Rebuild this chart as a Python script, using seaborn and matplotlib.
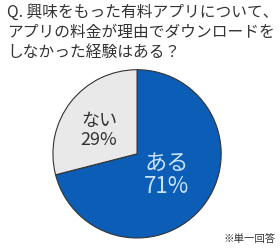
import matplotlib
matplotlib.use('Agg')
import matplotlib.pyplot as plt
import seaborn as sns

# Data
labels = ['ある', 'ない']
shares = [71, 29]
colors = ['#0B5DB5', '#E9E9E9']
text_colors = ['#C9E3FF', '#333333']

sns.set_theme(style='white')
plt.rcParams['font.family'] = ['Noto Sans CJK JP', 'DejaVu Sans']

fig = plt.figure(figsize=(2.8, 2.52), dpi=100)
ax = fig.add_axes([0.186, 0.052, 0.607, 0.675])

wedges, _ = ax.pie(shares, colors=colors, startangle=90, counterclock=False,
                   wedgeprops=dict(edgecolor='#333333', linewidth=0.8))
ax.set_xlim(-1.01, 1.01)
ax.set_ylim(-1.01, 1.01)

# In-slice labels
ax.text(0.35, -0.25, f'{labels[0]}\n{shares[0]}%', color=text_colors[0],
        fontsize=16, ha='center', va='center', linespacing=1.05)
ax.text(-0.45, 0.28, f'{labels[1]}\n{shares[1]}%', color=text_colors[1],
        fontsize=13, ha='center', va='center', linespacing=1.1)

fig.text(0.025, 0.985, 'Q. 興味をもった有料アプリについて、\nアプリの料金が理由でダウンロードを\nしなかった経験はある？',
         fontsize=11.3, color='#333333', ha='left', va='top', linespacing=1.25)
fig.text(0.985, 0.03, '※単一回答', fontsize=7.5, color='#333333', ha='right', va='bottom')

plt.savefig('out.png', dpi=100)
